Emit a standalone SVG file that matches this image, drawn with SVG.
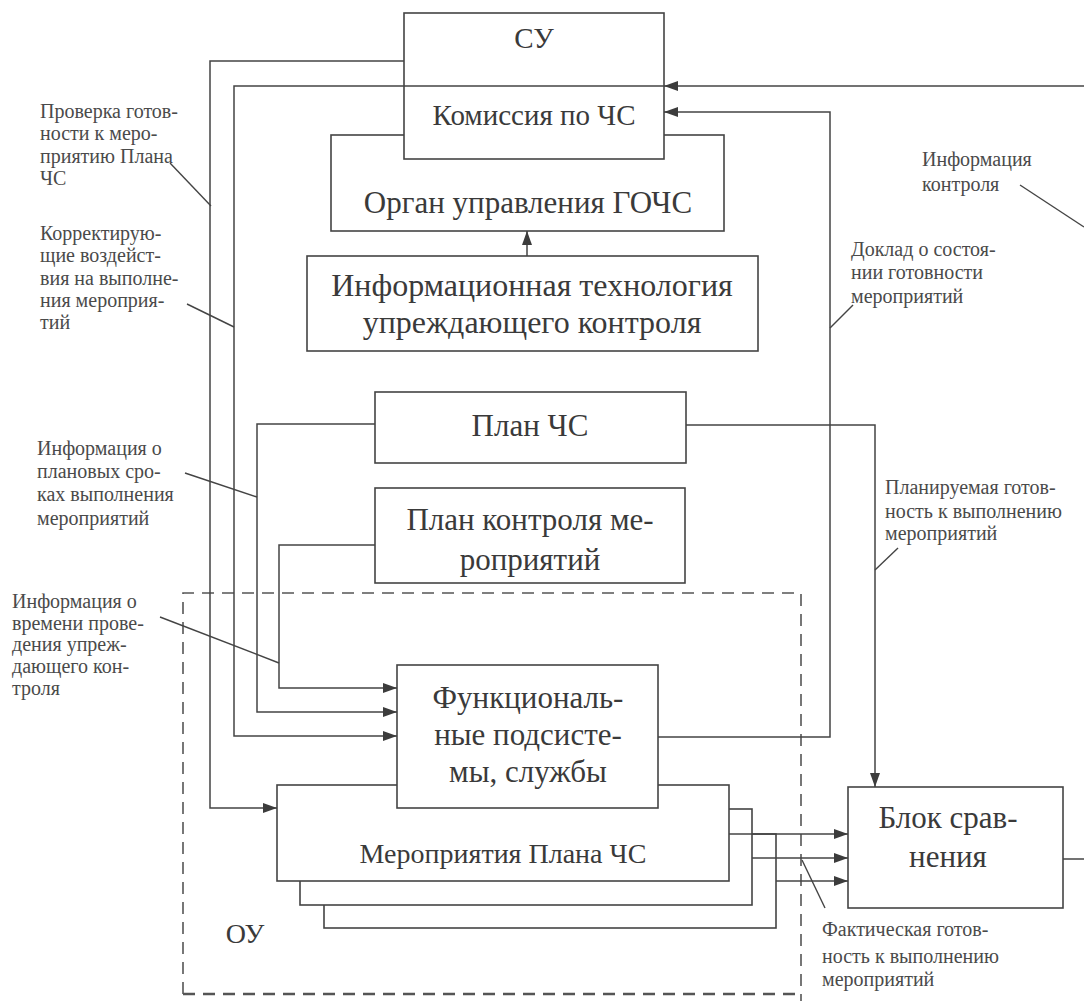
<svg xmlns="http://www.w3.org/2000/svg" width="1084" height="1001" viewBox="0 0 1084 1001" font-family="'Liberation Serif', 'Times New Roman', 'DejaVu Serif', serif">
<defs>
<marker id="ah" markerWidth="14" markerHeight="10" refX="14" refY="5" orient="auto" markerUnits="userSpaceOnUse"><path d="M0,0 L14,5 L0,10 z" fill="#3c3c3c"/></marker>
</defs>
<style>
.bx{fill:#fff;stroke:#444;stroke-width:1.6}
.ln{fill:none;stroke:#444;stroke-width:1.5}
.ar{fill:none;stroke:#444;stroke-width:1.5;marker-end:url(#ah)}
.ptr{fill:none;stroke:#444;stroke-width:1.4}
.dash{fill:none;stroke:#555;stroke-width:1.6;stroke-dasharray:12 8}
.t{fill:#3a3a3a;text-anchor:middle;font-size:31px}
.lb{fill:#4a4a4a;font-size:20px}
</style>
<rect width="1084" height="1001" fill="#fff"/>

<g id="ou-boundary">
<path class="dash" d="M183,994 V593 H801 V1001"/>
<path class="dash" d="M183,994 H801" style="stroke-width:2.6"/>
<text class="t" x="245" y="943" style="font-size:28px">ОУ</text>
</g>

<g id="organ">
<rect class="bx" x="331" y="135" width="393" height="96"/>
<text class="t" x="528" y="213">Орган управления ГОЧС</text>
</g>

<g id="su">
<rect class="bx" x="404" y="13" width="260" height="146"/>
<text class="t" x="534" y="48" style="font-size:29px">СУ</text>
<text class="t" x="534" y="125" style="font-size:29px">Комиссия по ЧС</text>
</g>

<g id="infotech">
<rect class="bx" x="307" y="256" width="451" height="95"/>
<text class="t" x="532" y="296" style="font-size:32px">Информационная технология</text>
<text class="t" x="532" y="333" style="font-size:32px">упреждающего контроля</text>
</g>

<g id="plan">
<rect class="bx" x="375" y="392" width="311" height="71"/>
<text class="t" x="530" y="436">План ЧС</text>
</g>

<g id="plan-control">
<rect class="bx" x="375" y="488" width="310" height="95"/>
<text class="t" x="530" y="530">План контроля ме-</text>
<text class="t" x="530" y="570">роприятий</text>
</g>

<g id="measures">
<rect class="bx" x="324" y="834" width="452" height="94"/>
<rect class="bx" x="300" y="809" width="452" height="96"/>
<rect class="bx" x="277" y="785" width="452" height="96"/>
<text class="t" x="503" y="863" style="font-size:28px">Мероприятия Плана ЧС</text>
</g>

<g id="functional">
<rect class="bx" x="397" y="665" width="261" height="143"/>
<text class="t" x="528" y="708">Функциональ-</text>
<text class="t" x="528" y="745">ные подсисте-</text>
<text class="t" x="528" y="782">мы, службы</text>
</g>

<g id="compare">
<rect class="bx" x="848" y="787" width="215" height="121"/>
<text class="t" x="948" y="828">Блок срав-</text>
<text class="t" x="948" y="867">нения</text>
</g>

<g id="connectors">
<path class="ar" d="M404,61 H210 V808 H277"/>
<path class="ar" d="M1084,86 H664"/>
<path class="ar" d="M664,86 H234 V736 H397"/>
<path class="ar" d="M658,737 H830 V112 H664"/>
<path class="ar" d="M375,424 H257 V712 H397"/>
<path class="ar" d="M375,545 H279 V688 H397"/>
<path class="ar" d="M686,425 H875 V787"/>
<path class="ar" d="M527,256 V231"/>
<path class="ar" d="M729,834 H848"/>
<path class="ar" d="M752,858 H848"/>
<path class="ar" d="M776,881 H848"/>
<path class="ln" d="M1063,859 H1084"/>
</g>

<g id="labels">
<text class="lb" x="40" y="118">Проверка готов-</text>
<text class="lb" x="40" y="140">ности к меро-</text>
<text class="lb" x="40" y="163">приятию Плана</text>
<text class="lb" x="40" y="185">ЧС</text>
<path class="ptr" d="M170,163 L211,206"/>

<text class="lb" x="40" y="240">Корректирую-</text>
<text class="lb" x="40" y="262">щие воздейст-</text>
<text class="lb" x="40" y="285">вия на выполне-</text>
<text class="lb" x="40" y="307">ния мероприя-</text>
<text class="lb" x="40" y="329">тий</text>
<path class="ptr" d="M187,304 L234,327"/>

<text class="lb" x="37" y="455">Информация о</text>
<text class="lb" x="37" y="478">плановых сро-</text>
<text class="lb" x="37" y="501">ках выполнения</text>
<text class="lb" x="37" y="525">мероприятий</text>
<path class="ptr" d="M185,473 L257,497"/>

<text class="lb" x="12" y="608">Информация о</text>
<text class="lb" x="12" y="630">времени прове-</text>
<text class="lb" x="12" y="651">дения упреж-</text>
<text class="lb" x="12" y="673">дающего кон-</text>
<text class="lb" x="12" y="695">троля</text>
<path class="ptr" d="M160,617 L279,663"/>

<text class="lb" x="922" y="166">Информация</text>
<text class="lb" x="922" y="191">контроля</text>
<path class="ptr" d="M1020,185 L1084,227"/>

<text class="lb" x="851" y="256">Доклад о состоя-</text>
<text class="lb" x="851" y="279">нии готовности</text>
<text class="lb" x="851" y="303">мероприятий</text>
<path class="ptr" d="M853,305 L830,328"/>

<text class="lb" x="885" y="494">Планируемая готов-</text>
<text class="lb" x="885" y="518">ность к выполнению</text>
<text class="lb" x="885" y="540">мероприятий</text>
<path class="ptr" d="M898,548 L875,570"/>

<text class="lb" x="822" y="936">Фактическая готов-</text>
<text class="lb" x="822" y="963">ность к выполнению</text>
<text class="lb" x="822" y="986">мероприятий</text>
<path class="ptr" d="M802,860 L825,908"/>
</g>
</svg>
